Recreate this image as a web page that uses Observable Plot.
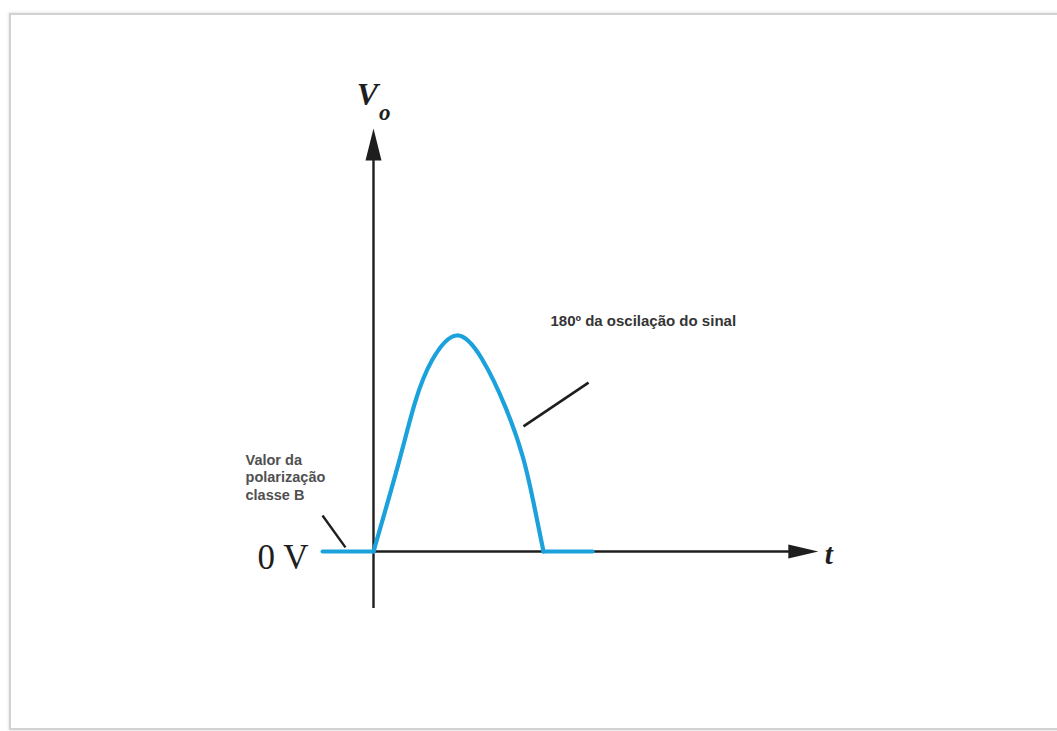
<!DOCTYPE html>
<html>
<head>
<meta charset="utf-8">
<script src="https://cdn.jsdelivr.net/npm/d3@7"></script>
<script src="https://cdn.jsdelivr.net/npm/@observablehq/plot@0.6"></script>
<style>
  html, body { margin: 0; padding: 0; background: #fff; }
  #wrap { position: relative; width: 1057px; height: 731px; overflow: hidden; }
  #frame {
    position: absolute; left: 9px; top: 13px; width: 1100px; height: 713px;
    border: 2px solid #d2d2d2; box-shadow: 0 0 3px rgba(0,0,0,0.18);
    background: #fff;
  }
  #chart { position: absolute; left: 0; top: 0; }
</style>
</head>
<body>
<div id="wrap">
  <div id="frame"></div>
  <div id="chart"></div>
</div>
<script>
// Class B output: half a cycle of the signal above the 0 V bias level
const biasPhase = [-54, 0];          // degrees
const biasVo = [0, 0];
const lobePhase = [0, 26, 44, 62, 88, 115, 140, 158, 169, 180];
const lobeVo = [0, 0.40, 0.69, 0.885, 1, 0.89, 0.665, 0.44, 0.236, 0];
const restPhase = [180, 232];
const restVo = [0, 0];

// axis extents (data units)
const tAxis = [-54, 445];   // horizontal axis line
const tTip = 471;           // arrow tip on t axis
const vAxis = [-0.264, 1.82];
const vTip = 1.958;

const toRows = (xs, ys) => xs.map((x, i) => ({x, y: ys[i]}));
const bias = toRows(biasPhase, biasVo);
const lobe = toRows(lobePhase, lobeVo);
const rest = toRows(restPhase, restVo);

const blue = "#1ba1dc";
const ink = "#1e1e1e";

// filled triangular arrowhead; tip at (0,-l)
const head = {
  draw(context, l, r) {
    context.moveTo(-r, 0);
    context.lineTo(0, -l);
    context.lineTo(r, 0);
    context.closePath();
  }
};

const serif = "'Liberation Serif', 'Times New Roman', serif";
const sans = "'Liberation Sans', Arial, sans-serif";

const chart = Plot.plot({
  width: 1057,
  height: 731,
  margin: 0,
  x: {domain: [0, 180], range: [373, 543], axis: null},
  y: {domain: [0, 1], range: [551, 335], axis: null},
  style: {background: "transparent", overflow: "visible"},
  marks: [
    // axes
    Plot.ruleX([0], {y1: vAxis[0], y2: vAxis[1], stroke: ink, strokeWidth: 2.4}),
    Plot.ruleY([0], {x1: tAxis[0], x2: tAxis[1], stroke: ink, strokeWidth: 2.4}),
    Plot.vector([{x: 0, y: vTip}], {x: "x", y: "y", length: 32, r: 8, rotate: 0, anchor: "end",
      shape: head, fill: ink, stroke: "none"}),
    Plot.vector([{x: tTip, y: 0}], {x: "x", y: "y", length: 30, r: 7, rotate: 90, anchor: "end",
      shape: head, fill: ink, stroke: "none"}),

    // output signal
    Plot.line(bias, {x: "x", y: "y", stroke: blue, strokeWidth: 4}),
    Plot.line(rest, {x: "x", y: "y", stroke: blue, strokeWidth: 4}),
    Plot.line(lobe, {x: "x", y: "y", stroke: blue, strokeWidth: 4.2, curve: "natural"}),

    // leader lines
    Plot.link([{x1: -54, y1: 0.167, x2: -29.7, y2: 0.019}], {x1: "x1", y1: "y1", x2: "x2", y2: "y2",
      stroke: ink, strokeWidth: 2.4}),
    Plot.link([{x1: 158.8, y1: 0.579, x2: 227.7, y2: 0.782}], {x1: "x1", y1: "y1", x2: "x2", y2: "y2",
      stroke: ink, strokeWidth: 2.6}),

    // axis titles
    Plot.text(["V"], {x: -6.4, y: 2.065, text: d => d, fontFamily: serif, fontStyle: "italic",
      fontWeight: "bold", fontSize: 32, fill: ink, lineAnchor: "bottom", textAnchor: "middle"}),
    Plot.text(["o"], {x: 11.8, y: 2.0, text: d => d, fontFamily: serif, fontStyle: "italic",
      fontWeight: "bold", fontSize: 23, fill: ink, lineAnchor: "bottom", textAnchor: "middle"}),
    Plot.text(["t"], {x: 482, y: -0.056, text: d => d, fontFamily: serif, fontStyle: "italic",
      fontWeight: "bold", fontSize: 29, fill: ink, lineAnchor: "bottom", textAnchor: "middle"}),
    Plot.text(["0 V"], {x: -68.8, y: -0.079, text: d => d, fontFamily: serif,
      fontSize: 35, fill: ink, lineAnchor: "bottom", textAnchor: "end"}),

    // annotations
    Plot.text(["Valor da\npolarização\nclasse B"], {x: -135.5, y: 0.46, text: d => d,
      fontFamily: sans, fontWeight: "bold", fontSize: 14.5, lineHeight: 1.22, fill: "#505050",
      lineAnchor: "top", textAnchor: "start"}),
    Plot.text(["180º da oscilação do sinal"], {x: 187.4, y: 1.046, text: d => d,
      fontFamily: sans, fontWeight: "bold", fontSize: 15, fill: "#353535",
      lineAnchor: "bottom", textAnchor: "start"})
  ]
});

document.getElementById("chart").appendChild(chart);
</script>
</body>
</html>
